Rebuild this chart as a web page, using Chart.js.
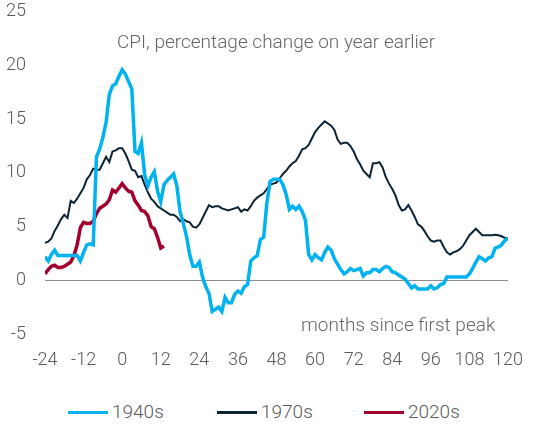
<!DOCTYPE html>
<html>
<head>
<meta charset="utf-8">
<script src="https://cdn.jsdelivr.net/npm/chart.js@4/dist/chart.umd.min.js"></script>
<style>
  body { margin: 0; background: #fff; }
  #wrap { position: relative; width: 552px; height: 442px; font-family: Roboto, sans-serif; font-weight: 300; overflow: hidden; }
  /* canvas pulled up a bit so the plot area starts where the original does */
  #box { position: absolute; left: 0; top: -18px; width: 552px; height: 398px; }
  .note { position: absolute; font-size: 19px; color: #666; white-space: nowrap; line-height: 22px; }
  .item { position: absolute; top: 400px; display: flex; align-items: center; gap: 4px; font-size: 19px; color: #595959; line-height: 24px; }
  .swatch { width: 40px; height: 3px; }
</style>
</head>
<body>
<div id="wrap">
  <div id="box"><canvas id="myChart"></canvas></div>
  <div class="note" style="left:117px; top:31px;">CPI, percentage change on year earlier</div>
  <div class="note" style="left:301px; top:314px;">months since first peak</div>
</div>
<script>
// months since first peak
const months = [
  -24, -23, -22, -21, -20, -19, -18, -17, -16, -15, -14, -13,
  -12, -11, -10, -9, -8, -7, -6, -5, -4, -3, -2, -1,
  0, 1, 2, 3, 4, 5, 6, 7, 8, 9, 10, 11,
  12, 13, 14, 15, 16, 17, 18, 19, 20, 21, 22, 23,
  24, 25, 26, 27, 28, 29, 30, 31, 32, 33, 34, 35,
  36, 37, 38, 39, 40, 41, 42, 43, 44, 45, 46, 47,
  48, 49, 50, 51, 52, 53, 54, 55, 56, 57, 58, 59,
  60, 61, 62, 63, 64, 65, 66, 67, 68, 69, 70, 71,
  72, 73, 74, 75, 76, 77, 78, 79, 80, 81, 82, 83,
  84, 85, 86, 87, 88, 89, 90, 91, 92, 93, 94, 95,
  96, 97, 98, 99, 100, 101, 102, 103, 104, 105, 106, 107,
  108, 109, 110, 111, 112, 113, 114, 115, 116, 117, 118, 119,
  120
];

const cpi1940s = [
  2.2, 1.8, 2.4, 2.8, 2.3, 2.3, 2.3, 2.3, 2.3, 2.3, 2.3, 1.8,
  2.6, 3.3, 3.4, 3.3, 11.5, 12.2, 13.3, 14.7, 17.3, 18.1, 18.3, 19.0,
  19.6, 19.2, 18.5, 17.8, 12.0, 11.8, 12.8, 9.8, 8.8, 9.6, 10.1, 8.3,
  7.3, 8.9, 9.3, 9.6, 9.9, 8.8, 6.4, 5.3, 4.1, 2.4, 1.3, 1.3,
  1.7, 0.3, -0.6, -1.2, -2.9, -2.7, -2.5, -2.9, -1.6, -2.1, -2.1, -1.3,
  -1.0, -1.2, -0.6, -0.4, 1.8, 2.1, 2.3, 3.8, 4.0, 7.2, 9.2, 9.4,
  9.4, 9.4, 8.9, 8.0, 6.6, 6.9, 6.6, 6.9, 6.4, 5.6, 2.4, 1.9,
  2.4, 2.1, 1.9, 2.6, 3.1, 2.8, 2.0, 1.5, 1.0, 0.6, 0.8, 1.1,
  0.9, 1.0, 1.1, 0.4, 0.7, 0.7, 1.0, 1.0, 0.8, 1.1, 1.3, 1.2,
  0.8, 0.7, 0.5, 0.3, 0.1, -0.3, -0.7, -0.5, -0.8, -0.8, -0.8, -0.8,
  -0.5, -0.8, -0.7, -0.4, -0.3, 0.3, 0.3, 0.3, 0.3, 0.3, 0.3, 0.3,
  0.6, 1.1, 1.7, 2.2, 2.0, 1.8, 2.1, 2.2, 3.0, 3.1, 3.3, 3.7,
  3.9
];

const cpi1970s = [
  3.5, 3.6, 3.9, 4.6, 5.1, 5.7, 6.1, 5.8, 7.4, 7.2, 7.6, 8.1,
  8.6, 9.4, 9.8, 10.4, 10.3, 10.3, 10.9, 11.5, 11.0, 12.0, 12.1, 12.3,
  12.3, 11.8, 11.1, 10.3, 10.2, 9.6, 9.7, 8.9, 8.2, 7.6, 7.3, 6.9,
  6.7, 6.5, 6.3, 6.1, 6.1, 5.9, 5.5, 5.7, 5.5, 5.4, 5.0, 4.9,
  5.2, 5.8, 6.4, 7.0, 6.8, 6.9, 6.9, 6.7, 6.6, 6.5, 6.6, 6.7,
  6.8, 6.4, 6.6, 6.5, 6.9, 7.4, 7.7, 7.9, 8.1, 8.5, 8.9, 9.0,
  9.1, 9.5, 9.9, 10.2, 10.6, 10.9, 11.1, 11.6, 12.2, 12.3, 12.6, 13.2,
  13.8, 14.2, 14.5, 14.8, 14.6, 14.4, 14.0, 13.1, 12.7, 12.8, 12.8, 12.5,
  12.0, 11.3, 10.8, 10.2, 9.9, 9.6, 10.9, 10.9, 11.0, 10.5, 9.6, 9.0,
  8.5, 7.9, 7.0, 6.5, 6.6, 7.0, 6.5, 5.9, 5.2, 5.0, 4.6, 4.1,
  3.7, 3.6, 3.7, 3.7, 3.1, 2.6, 2.4, 2.6, 2.7, 2.9, 3.2, 3.7,
  4.2, 4.5, 4.8, 4.5, 4.2, 4.2, 4.2, 4.2, 4.25, 4.2, 4.1, 3.95,
  3.9
];

// only runs to 13 months after the peak
const cpi2020s = [
  0.6, 1.0, 1.3, 1.4, 1.2, 1.2, 1.3, 1.5, 1.7, 2.3, 3.3, 4.9,
  5.4, 5.3, 5.3, 5.5, 6.2, 6.7, 6.9, 7.1, 7.5, 8.4, 8.2, 8.6,
  9.0, 8.6, 8.3, 8.2, 7.4, 7.0, 6.5, 6.4, 6.0, 5.0, 4.8, 4.0, 3.0, 3.2
];

const xTicks = [-24, -12, 0, 12, 24, 36, 48, 60, 72, 84, 96, 108, 120];
const yTicks = [-5, 0, 5, 10, 15, 20, 25];

const series = [
  { label: '1940s', values: cpi1940s, color: '#00b2f0', width: 3.5, left: 68 },
  { label: '1970s', values: cpi1970s, color: '#0c2333', width: 2, left: 217 },
  { label: '2020s', values: cpi2020s, color: '#a3002f', width: 3.5, left: 364 }
];

function toPoints(values){
  return values.map((v, i) => ({ x: months[i], y: v }));
}

const tickFont = { family: 'Roboto', size: 18, weight: '300' };

const ctx = document.getElementById('myChart').getContext('2d');
new Chart(ctx, {
  type: 'line',
  data: {
    datasets: series.map(s => ({
      label: s.label,
      data: toPoints(s.values),
      borderColor: s.color,
      backgroundColor: s.color,
      borderWidth: s.width,
      pointRadius: 0,
      tension: 0,
      fill: false
    }))
  },
  options: {
    responsive: true,
    maintainAspectRatio: false,
    animation: false,
    layout: { padding: { left: 0, right: 44, top: 0, bottom: 0 } },
    plugins: { legend: { display: false }, tooltip: { enabled: false } },
    scales: {
      x: {
        type: 'linear',
        min: xTicks[0],
        max: xTicks[xTicks.length - 1],
        afterBuildTicks: s => { s.ticks = xTicks.map(v => ({ value: v })); },
        afterFit: s => { s.height = 46; },
        grid: { display: false },
        border: { display: false },
        ticks: { font: tickFont, color: '#595959', padding: 8, maxRotation: 0, autoSkip: false }
      },
      y: {
        min: yTicks[0],
        max: yTicks[yTicks.length - 1],
        afterBuildTicks: s => { s.ticks = yTicks.map(v => ({ value: v })); },
        afterFit: s => { s.width = 45; },
        grid: {
          drawTicks: false,
          color: c => (c.tick && c.tick.value === 0) ? '#8c8c8c' : 'rgba(0,0,0,0)',
          lineWidth: 1
        },
        border: { display: false },
        ticks: { font: tickFont, color: '#595959', padding: 19 }
      }
    }
  }
});

// legend below the chart
const wrap = document.getElementById('wrap');
series.forEach(s => {
  const item = document.createElement('div');
  item.className = 'item';
  item.style.left = s.left + 'px';
  const sw = document.createElement('span');
  sw.className = 'swatch';
  sw.style.background = s.color;
  const txt = document.createElement('span');
  txt.textContent = s.label;
  item.appendChild(sw);
  item.appendChild(txt);
  wrap.appendChild(item);
});
</script>
</body>
</html>
